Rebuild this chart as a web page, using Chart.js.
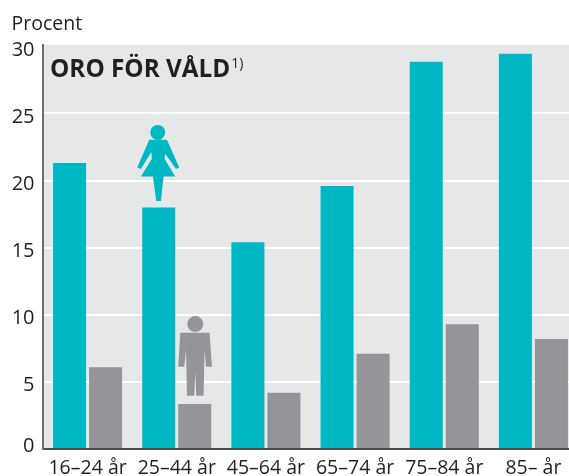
<!DOCTYPE html>
<html><head><meta charset="utf-8">
<style>html,body{margin:0;padding:0;background:#fff;overflow:hidden}#w{width:569px;height:476px;position:relative;overflow:hidden}canvas{display:block}</style>
<script src="https://cdn.jsdelivr.net/npm/chart.js@4"></script>
</head><body><div id="w"><canvas id="c" width="578" height="476"></canvas></div>
<script>
const categories=['16–24 år','25–44 år','45–64 år','65–74 år','75–84 år','85– år'];
const women=[21.3,18.0,15.4,19.6,28.85,29.45];
const men=[6.1,3.35,4.2,7.1,9.3,8.2];
const yTicks=[0,5,10,15,20,25,30];
const unitLabel='Procent';
const heading='ORO FÖR VÅLD';
const headingNote='1)';
const FONT='"Open Sans"';
const TXT='#231f20';
const womanBody=[[-9.5,-67.7],[8.2,-67.7],[20.5,-40],[17.2,-38.3],[6.5,-53.7],[5.8,-48.7],[16.5,-31],[4.8,-31],[2.2,-6.3],[-2.5,-6.3],[-5.8,-31],[-17.8,-31],[-6.8,-48.7],[-7.5,-55.3],[-17.8,-38.3],[-21.5,-40]];
const manBody=[[-14.5,-71.3],[14.8,-71.3],[17.2,-37.3],[11.2,-37.3],[9.8,-54],[8.8,-8.3],[1.5,-8.3],[.5,-32.3],[-.5,-8.3],[-7.8,-8.3],[-8.8,-54],[-10.5,-37.3],[-16.5,-37.3]];
function icon(ctx,x,y,body,hx,hy,r,color){
  ctx.fillStyle=color;ctx.beginPath();
  body.forEach((p,i)=>i?ctx.lineTo(x+p[0],y+p[1]):ctx.moveTo(x+p[0],y+p[1]));
  ctx.closePath();ctx.fill();
  ctx.beginPath();ctx.arc(x+hx,y+hy,r,0,Math.PI*2);ctx.fill();
}
const deco={id:'deco',
  beforeDraw(ch){const a=ch.chartArea,c=ch.ctx;c.save();c.fillStyle='#e6e7e9';c.fillRect(a.left,a.top,a.right-a.left,a.bottom-a.top);c.restore();},
  afterDraw(ch){const c=ch.ctx;c.save();
    c.fillStyle=TXT;c.textBaseline='alphabetic';c.textAlign='left';
    c.font='19.5px '+FONT;c.fillText(unitLabel,11.5,30);
    c.font='bold 24.3px '+FONT;c.fillText(heading,50,77);
    const w=c.measureText(heading).width;
    c.font='14px '+FONT;c.fillText(headingNote,50+w+1,68);
    const f=ch.getDatasetMeta(0).data[1],m=ch.getDatasetMeta(1).data[1];
    icon(c,f.x,f.y,womanBody,-1,-75,7.5,'#00b8c4');
    icon(c,m.x,m.y,manBody,.5,-80,8,'#939598');
    const y=ch.scales.y;
    c.fillStyle=TXT;c.font='20px '+FONT;c.textAlign='right';c.textBaseline='middle';
    yTicks.forEach(v=>c.fillText(String(v),34.5,y.getPixelForValue(v)+(v===0?-3:3.5)));
    c.restore();}
};
new Chart(document.getElementById('c'),{
  type:'bar',
  data:{labels:categories,datasets:[
    {label:'Kvinnor',data:women,backgroundColor:'#00b8c4',barPercentage:.917,categoryPercentage:.808},
    {label:'Män',data:men,backgroundColor:'#939598',barPercentage:.917,categoryPercentage:.808}]},
  options:{responsive:false,animation:false,
    layout:{padding:{top:45,right:0,left:0,bottom:0}},
    plugins:{legend:{display:false},tooltip:{enabled:false},title:{display:false}},
    scales:{
      x:{grid:{display:false},border:{color:'#4d4d4f',width:2},
        ticks:{color:TXT,font:{family:FONT,size:19.5},padding:0,maxRotation:0,autoSkip:false},
        afterFit(s){s.height=27;}},
      y:{min:0,max:30.1,
        afterBuildTicks(s){s.ticks=yTicks.map(v=>({value:v}));},
        afterFit(s){s.width=43;},
        grid:{color:c=>c.tick&&(c.tick.value===0||c.tick.value===30)?'rgba(0,0,0,0)':'#ffffff',lineWidth:2,drawTicks:false},
        border:{color:'#6d6e71',width:2},
        ticks:{display:false}}
    }},
  plugins:[deco]
});
</script></body></html>
